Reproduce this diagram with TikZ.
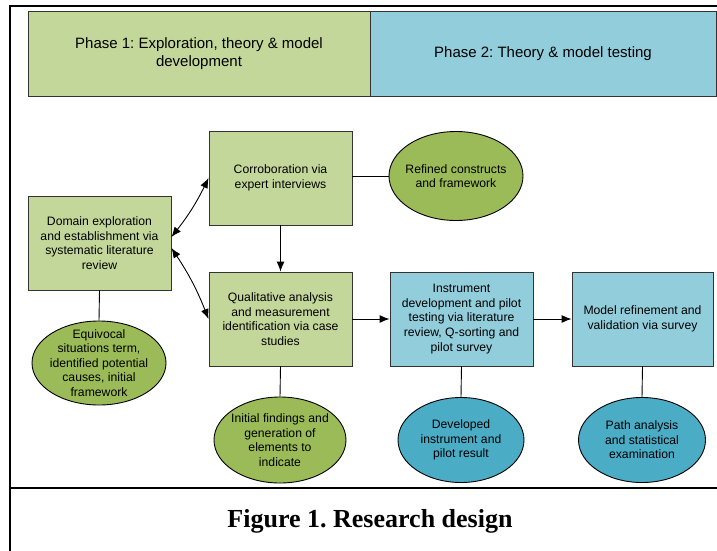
\documentclass[tikz,border=0pt]{standalone}
\usepackage{fontspec}
\setmainfont{Liberation Sans}
\newfontfamily\capfont{Liberation Serif}
\usetikzlibrary{shapes.geometric,arrows.meta}
\definecolor{boxgreen}{HTML}{C4D79B}
\definecolor{ellgreen}{HTML}{9BBB59}
\definecolor{boxblue}{HTML}{92CDDC}
\definecolor{ellblue}{HTML}{4BACC6}
\definecolor{edge}{HTML}{333333}
\frenchspacing
\tikzset{
  txt/.style={font=\fontsize{12.2}{14.6}\selectfont, align=center, text=black},
  gbox/.style={draw=edge, line width=0.9pt, fill=boxgreen, minimum width=143pt, minimum height=94pt, inner sep=0pt, txt},
  bbox/.style={draw=edge, line width=0.9pt, fill=boxblue, minimum width=143pt, minimum height=94pt, inner sep=0pt, txt},
  gell/.style={ellipse, draw=black, line width=0.9pt, fill=ellgreen, inner sep=0pt},
  bell/.style={ellipse, draw=black, line width=0.9pt, fill=ellblue, inner sep=0pt},
  conn/.style={draw=black, line width=0.9pt},
  arr/.style={conn, -{Latex[length=10pt,width=8pt]}},
  darr/.style={conn, {Latex[length=10pt,width=8pt]}-{Latex[length=10pt,width=8pt]}},
  frame/.style={draw=black, line width=2.6pt},
}
\begin{document}
\begin{tikzpicture}[x=1pt,y=-1pt]
\useasboundingbox (0,0) rectangle (717,551);
% frame
\draw[frame] (10,551) -- (10,6) -- (717,6);
\draw[frame] (10,488) -- (717,488);
% phase header
\node[draw=edge, line width=0.9pt, fill=boxgreen, minimum width=342pt, minimum height=85pt, inner sep=0pt,
      font=\fontsize{15}{17.5}\selectfont, align=center] (ph1) at (199,53.5)
  {Phase 1: Exploration, theory \& model\\development};
\node[draw=edge, line width=0.9pt, fill=boxblue, minimum width=346pt, minimum height=85pt, inner sep=0pt,
      font=\fontsize{15}{17.5}\selectfont, align=center] (ph2) at (543,53.5)
  {Phase 2: Theory \& model testing};
% boxes
\node[gbox] (dom) at (99.5,243) {Domain exploration\\and establishment via\\systematic literature\\review};
\node[gbox] (cor) at (280.5,178) {Corroboration via\\expert interviews};
\node[gbox] (qual) at (280.5,319) {Qualitative analysis\\and measurement\\identification via case\\studies};
\node[bbox] (inst) at (461.5,319) {Instrument\\development and pilot\\testing via literature\\review, Q-sorting and\\pilot survey};
\node[bbox, minimum width=141pt] (model) at (642.5,319) {Model refinement and\\validation via survey};
% ellipses
\node[gell, minimum width=134pt, minimum height=89pt] (ref) at (456,176) {};
\node[txt] (reft) at (ref) {Refined constructs\\and framework};
\node[gell, minimum width=134pt, minimum height=84pt] (eq) at (99,363) {};
\node[txt] (eqt) at (eq) {Equivocal\\situations term,\\identified potential\\causes, initial\\framework};
\node[gell, minimum width=132pt, minimum height=86pt] (ini) at (280,440) {};
\node[txt] (init) at (ini) {Initial findings and\\generation of\\elements to\\indicate};
\node[bell, minimum width=126pt, minimum height=85pt] (dev) at (461,440) {};
\node[txt] (devt) at (dev) {Developed\\instrument and\\pilot result};
\node[bell, minimum width=127pt, minimum height=85pt] (pth) at (642,440) {};
\node[txt] (ptht) at (pth) {Path analysis\\and statistical\\examination};
% connectors
\draw[conn] (dom.south) -- (eq.north);
\draw[conn] ([yshift=2pt]cor.east) -- (ref.west);
\draw[conn] (qual.south) -- (ini.north);
\draw[conn] (inst.south) -- (dev.north);
\draw[conn] (model.south) -- (pth.north);
\draw[arr] (cor.south) -- (qual.north);
\draw[arr] (qual.east) -- (inst.west);
\draw[arr] (inst.east) -- (model.west);
\draw[darr] ([yshift=6pt]dom.east) to[bend right=6] (cor.west);
\draw[darr] ([yshift=-5pt]dom.east) to[bend left=6] (qual.west);
% caption
\node[font=\capfont\bfseries\fontsize{26}{30}\selectfont] (cap) at (370,521) {Figure 1. Research design};
\end{tikzpicture}
\end{document}
